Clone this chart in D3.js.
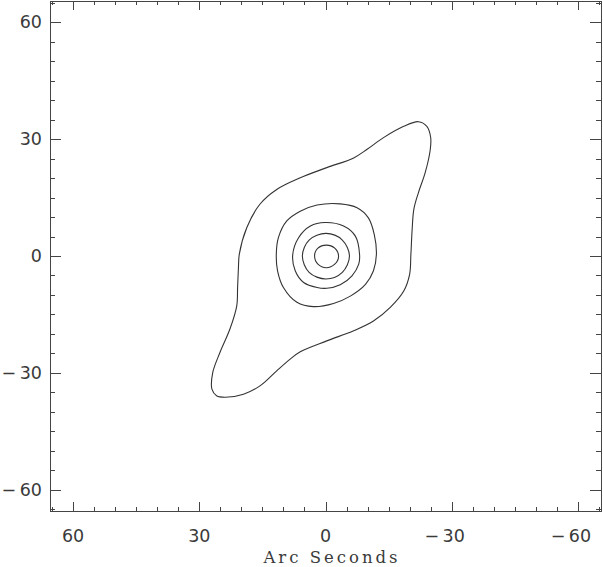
<!DOCTYPE html>
<html><head><meta charset="utf-8">
<script src="https://cdn.jsdelivr.net/npm/d3@7"></script>
<style>body{margin:0;background:#fff}svg{display:block}</style>
</head><body>
<svg id="c" width="603" height="567"></svg>
<script>
// Contour levels (arc seconds, x = RA offset, y = Dec offset)
const contour1 = [[2.6,0],[1.8,2.0],[-0.2,2.8],[-2.2,2.0],[-3.1,-0.1],[-2.2,-2.1],[-0.2,-3.0],[1.8,-2.1]];
const contour2 = [[5.5,0],[3.9,4.1],[-0.1,5.8],[-4.0,4.1],[-5.7,0],[-4.0,-4.2],[-0.1,-5.9],[3.9,-4.2]];
const contour3 = [[7.8,0.3],[6.4,4.7],[3.6,7.7],[0.1,8.6],[-4.3,7.7],[-7.1,5.1],[-8.1,0.4],[-7.9,-2.1],[-6.3,-5.1],[-3.5,-7.4],[-0.3,-8.3],[2.0,-8.1],[5.2,-6.8],[7.2,-3.8]];
const contour4 = [[11.7,0.4],[11.2,4.7],[9.2,9.0],[6.0,11.5],[2.0,13.1],[-3.5,13.4],[-7.5,12.4],[-10.2,9.8],[-11.6,5.5],[-12.1,0.4],[-11.4,-3.8],[-9.5,-7.3],[-5.9,-10.3],[-1.9,-12.2],[2.9,-13.0],[6.8,-11.9],[10.0,-8.1],[11.4,-3.8]];
const contour5 = [[-22.1,34.5],[-24.1,33.3],[-25.0,30.5],[-24.9,27.3],[-23.7,21.4],[-22.1,16.3],[-21.0,12.0],[-20.6,6.8],[-20.3,0.4],[-20.0,-4.7],[-18.6,-9.0],[-15.4,-13.2],[-11.4,-16.7],[-6.7,-19.2],[-0.3,-21.8],[6.0,-24.6],[8.4,-26.5],[11.6,-29.5],[15.5,-33.3],[19.5,-35.5],[23.9,-36.3],[25.9,-35.9],[27.0,-34.2],[26.8,-29.9],[25.1,-24.8],[22.7,-18.7],[21.1,-12.8],[20.9,-8.1],[20.7,-3.0],[20.5,0.4],[18.7,7.3],[15.6,13.3],[11.6,17.1],[6.0,20.1],[-0.3,22.7],[-6.7,25.2],[-9.9,27.4],[-13.8,30.4],[-18.6,33.3]];
const contours = [contour1, contour2, contour3, contour4, contour5];

const majorTicks = [60, 30, 0, -30, -60];
const minorTicks = [65,55,50,45,40,35,25,20,15,10,5,-5,-10,-15,-20,-25,-35,-40,-45,-50,-55,-65];
const xDomain = [65.5, -65.5];
const yDomain = [65.5, -65.5];
const xTitle = "Arc Seconds";

const svg = d3.select("#c");
const L = 50, R = 601, T = 1, B = 511;
const x = d3.scaleLinear().domain(xDomain).range([L, R]);
const y = d3.scaleLinear().domain(yDomain).range([T, B]);
const axisColor = "#444";
const fmt = d => d < 0 ? "\u2212\u2009" + Math.abs(d) : String(d);

// ticks
const g = svg.append("g").attr("stroke", axisColor).attr("stroke-width", 1).attr("shape-rendering","crispEdges");
function ticks(vals, len) {
  vals.forEach(v => {
    const px = Math.round(x(v)) + 0.5, py = Math.round(y(v)) + 0.5;
    g.append("line").attr("x1", px).attr("x2", px).attr("y1", B).attr("y2", B - len.x);
    g.append("line").attr("x1", px).attr("x2", px).attr("y1", T).attr("y2", T + len.x);
    g.append("line").attr("y1", py).attr("y2", py).attr("x1", L).attr("x2", L + len.y);
    g.append("line").attr("y1", py).attr("y2", py).attr("x1", R).attr("x2", R - len.y);
  });
}
ticks(majorTicks, {x: 9, y: 11});
ticks(minorTicks, {x: 4, y: 5});
g.append("rect").attr("x", L + 0.5).attr("y", T + 0.5).attr("width", R - L).attr("height", B - T).attr("fill", "none");

// tick labels
const lab = svg.append("g").attr("font-family", "DejaVu Sans, sans-serif").attr("font-size", 17.5).attr("fill", "#3a3a3a");
majorTicks.forEach(v => {
  const s = fmt(v);
  lab.append("text").attr("x", x(v) + (v < 0 ? -7 : 0)).attr("y", 542).attr("text-anchor", "middle").text(s);
  lab.append("text").attr("x", 42).attr("y", y(v) + 6).attr("text-anchor", "end").text(s);
});
svg.append("text").attr("x", 332).attr("y", 563).attr("text-anchor", "middle")
  .attr("font-family", "DejaVu Serif, serif").attr("font-size", 16.5).attr("fill", "#3a3a3a")
  .attr("letter-spacing", 3).text(xTitle);

// contours
const line = d3.line().x(d => x(d[0])).y(d => y(d[1])).curve(d3.curveCatmullRomClosed.alpha(0.5));
svg.append("g").selectAll("path").data(contours).join("path")
  .attr("d", line).attr("fill", "none").attr("stroke", "#333").attr("stroke-width", 1.1);
</script>
</body></html>
